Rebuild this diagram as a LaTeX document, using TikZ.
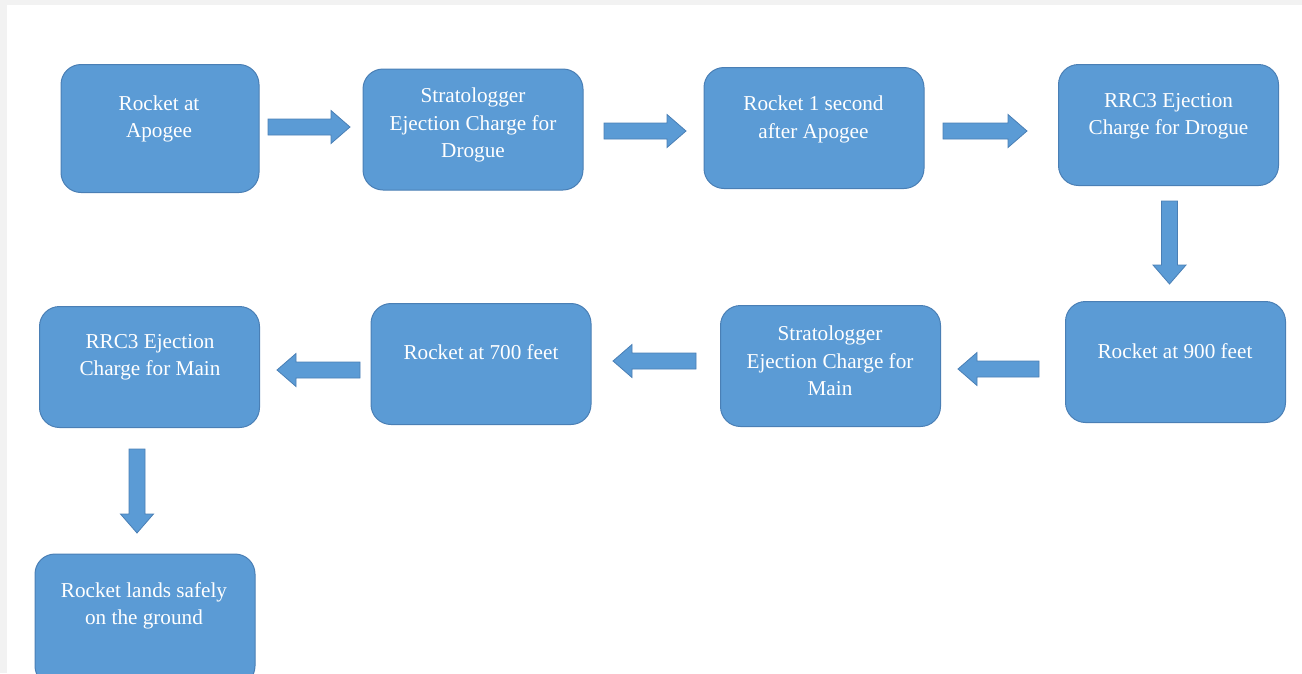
\documentclass[tikz,border=0pt]{standalone}
\usepackage{fontspec}
\setmainfont{Liberation Serif}
\usetikzlibrary{calc}
\definecolor{boxblue}{HTML}{5B9BD5}
\definecolor{boxedge}{HTML}{4A7FB5}
\definecolor{framegray}{HTML}{F2F2F2}
\tikzset{
  box/.style={draw=boxedge, fill=boxblue, line width=1pt, rounded corners=20pt, inner sep=0pt},
  txt/.style={text=white, align=center, font=\fontsize{21.2}{27.5}\selectfont, inner sep=0pt},
  barrow/.style={draw=boxedge, fill=boxblue, line width=0.8pt, line join=miter,
    to path={
      let \p1=(\tikztostart), \p2=(\tikztotarget),
          \n2={atan2(\y2-\y1,\x2-\x1)} in
      ($(\p1)+({\n2+90}:8pt)$)
      -- ($(\p2)+({\n2+180}:19pt)+({\n2+90}:8pt)$)
      -- ($(\p2)+({\n2+180}:19pt)+({\n2+90}:16.5pt)$)
      -- (\p2)
      -- ($(\p2)+({\n2+180}:19pt)+({\n2-90}:16.5pt)$)
      -- ($(\p2)+({\n2+180}:19pt)+({\n2-90}:8pt)$)
      -- ($(\p1)+({\n2-90}:8pt)$)
      -- cycle
    }}
}
\begin{document}
\begin{tikzpicture}[x=1pt,y=-1pt]
\useasboundingbox (0,0) rectangle (1302,673);
\fill[framegray] (0,0) rectangle (1302,5);
\fill[framegray] (0,0) rectangle (7,673);

% boxes
\node[box, minimum width=198pt, minimum height=128pt] (b1) at (160,128.5) {};
\node[box, minimum width=220pt, minimum height=121pt] (b2) at (473,129.5) {};
\node[box, minimum width=220pt, minimum height=121pt] (b3) at (814,128) {};
\node[box, minimum width=220pt, minimum height=121pt] (b4) at (1168.5,125) {};
\node[box, minimum width=220pt, minimum height=121pt] (b5) at (1175.5,362) {};
\node[box, minimum width=220pt, minimum height=121pt] (b6) at (830.5,366) {};
\node[box, minimum width=220pt, minimum height=121pt] (b7) at (481,364) {};
\node[box, minimum width=220pt, minimum height=121pt] (b8) at (149.5,367) {};
\node[box, minimum width=220pt, minimum height=132pt] (b9) at (145,620) {};

% texts
\node[txt] (t1) at (159,119) {Rocket at\\Apogee};
\node[txt] (t2) at (473,125) {Stratologger\\Ejection Charge for\\Drogue};
\node[txt] (t3) at (813.5,119.5) {Rocket 1 second\\after Apogee};
\node[txt] (t4) at (1168.5,116.5) {RRC3 Ejection\\Charge for Drogue};
\node[txt] (t5) at (1175,351) {Rocket at 900 feet};
\node[txt] (t6) at (830,361) {Stratologger\\Ejection Charge for\\Main};
\node[txt] (t7) at (481,352) {Rocket at 700 feet};
\node[txt] (t8) at (150,357.5) {RRC3 Ejection\\Charge for Main};
\node[txt] (t9) at (144,606) {Rocket lands safely\\on the ground};

% arrow end points
\coordinate (s1) at (268,127);   \coordinate (e1) at (350,127);
\coordinate (s2) at (604,131);   \coordinate (e2) at (686,131);
\coordinate (s3) at (943,131);   \coordinate (e3) at (1027,131);
\coordinate (s4) at (1169.5,201); \coordinate (e4) at (1169.5,284);
\coordinate (s5) at (1039,369);  \coordinate (e5) at (958,369);
\coordinate (s6) at (696,361);   \coordinate (e6) at (613,361);
\coordinate (s7) at (360,370);   \coordinate (e7) at (277,370);
\coordinate (s8) at (137,449);   \coordinate (e8) at (137,533);

\draw[barrow] (s1) to (e1);
\draw[barrow] (s2) to (e2);
\draw[barrow] (s3) to (e3);
\draw[barrow] (s4) to (e4);
\draw[barrow] (s5) to (e5);
\draw[barrow] (s6) to (e6);
\draw[barrow] (s7) to (e7);
\draw[barrow] (s8) to (e8);
\end{tikzpicture}
\end{document}
